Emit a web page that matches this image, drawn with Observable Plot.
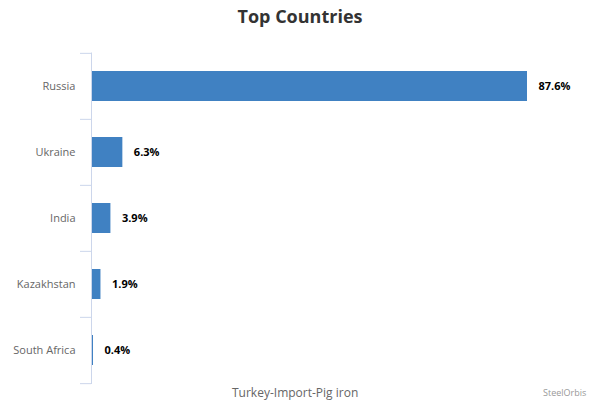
<!DOCTYPE html>
<html>
<head>
<meta charset="utf-8">
<script src="https://cdn.jsdelivr.net/npm/d3@7"></script>
<script src="https://cdn.jsdelivr.net/npm/@observablehq/plot@0.6"></script>
<style>
  html, body { margin: 0; padding: 0; background: #fff; }
  #wrap { position: relative; width: 600px; height: 400px; overflow: hidden; font-family: "Open Sans", "DejaVu Sans", sans-serif; }
  #title { position: absolute; left: 0; top: 4px; width: 600px; text-align: center; font-size: 18px; font-weight: bold; color: #333; }
  #chart { position: absolute; left: 0; top: 40px; }
  #caption { position: absolute; left: 232px; top: 384px; font-size: 12px; color: #666; }
  #credit { position: absolute; left: 543px; top: 386px; font-size: 9px; color: #999; }
</style>
</head>
<body>
<div id="wrap">
  <div id="title">Top Countries</div>
  <div id="chart"></div>
  <div id="caption">Turkey-Import-Pig iron</div>
  <div id="credit">SteelOrbis</div>
</div>
<script>
const countries = ["Russia", "Ukraine", "India", "Kazakhstan", "South Africa"];
const shares = [87.6, 6.3, 3.9, 1.9, 0.4];
const data = countries.map((c, i) => ({country: c, share: shares[i]}));

const band = (384 - 52.5) / countries.length;

const chart = Plot.plot({
  width: 600,
  height: 360,
  marginTop: 12.5,
  marginBottom: 16,
  marginLeft: 91,
  marginRight: 73,
  style: {fontFamily: "'Open Sans', 'DejaVu Sans', sans-serif", background: "transparent"},
  x: {domain: [0, 87.6], axis: null},
  y: {domain: countries, padding: 0, axis: null, label: null},
  marks: [
    Plot.axisY({tickSize: 0, tickPadding: 16, fontSize: 11, fill: "#666", label: null}),
    Plot.axisY({tickSize: 11, text: null, dy: -band / 2, stroke: "#ccd6eb", label: null}),
    Plot.axisY({ticks: [countries[countries.length - 1]], tickSize: 11, text: null, dy: band / 2, stroke: "#ccd6eb", label: null}),
    Plot.barX(data, {x: "share", y: "country", fill: "#4081c2", insetTop: 18, insetBottom: 18}),
    Plot.ruleX([0], {stroke: "#ccd6eb"}),
    Plot.text(data, {x: "share", y: "country", text: d => d.share.toFixed(1) + "%", dx: 11, textAnchor: "start", fontWeight: "bold", fontSize: 11, fill: "#000"})
  ]
});
document.getElementById("chart").appendChild(chart);
</script>
</body>
</html>
